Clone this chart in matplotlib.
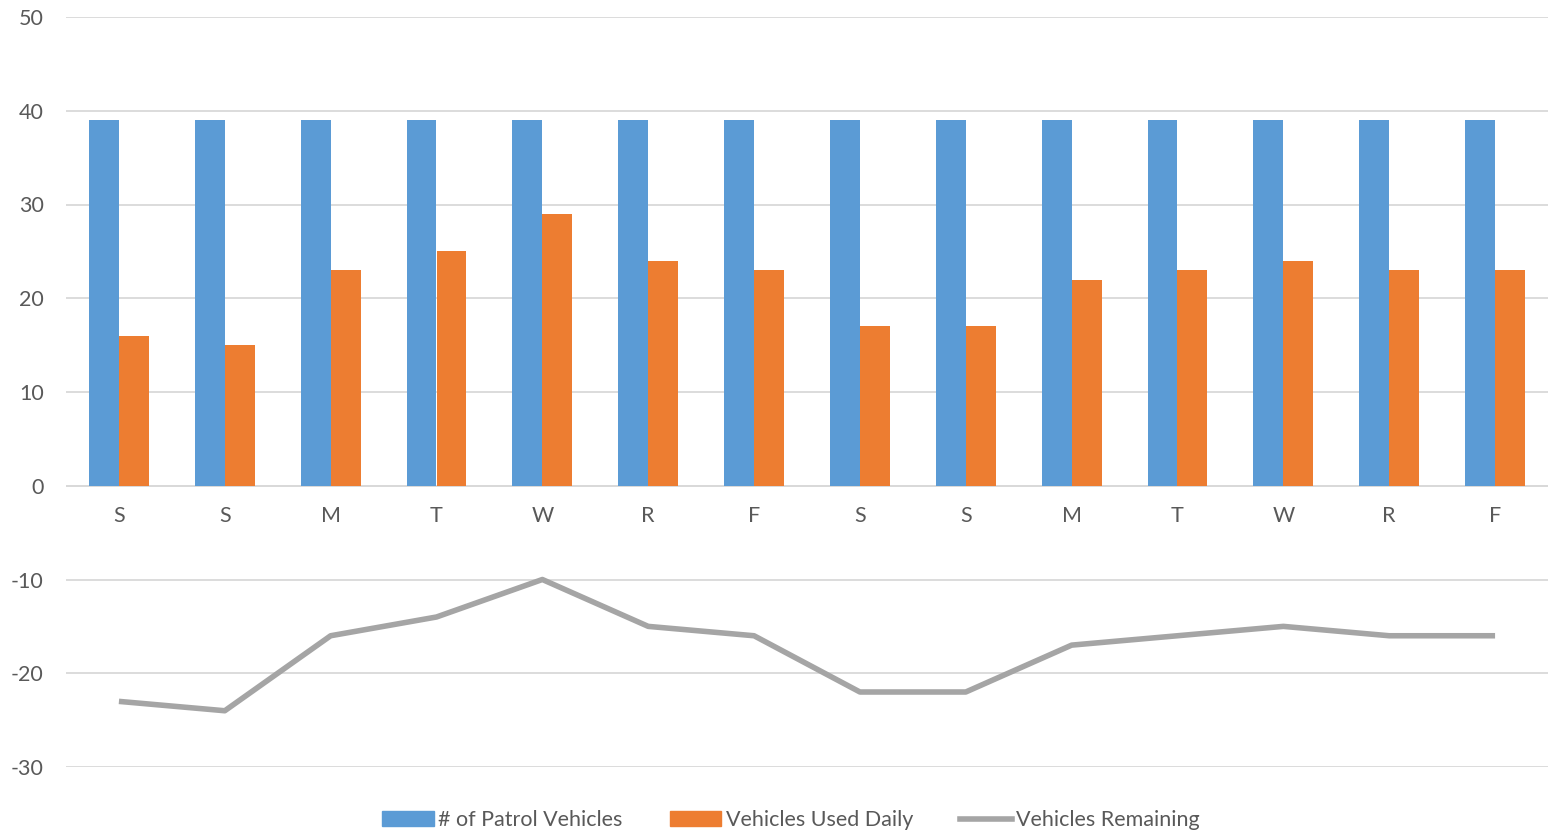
import numpy as np
import matplotlib.pyplot as plt
from matplotlib.lines import Line2D
from matplotlib.patches import Patch

days = ["S", "S", "M", "T", "W", "R", "F", "S", "S", "M", "T", "W", "R", "F"]
patrol = [39, 39, 39, 39, 39, 39, 39, 39, 39, 39, 39, 39, 39, 39]
used = [16, 15, 23, 25, 29, 24, 23, 17, 17, 22, 23, 24, 23, 23]
remaining = [-23, -24, -16, -14, -10, -15, -16, -22, -22, -17, -16, -15, -16, -16]

plt.rcParams['font.family'] = ['Lato', 'DejaVu Sans']
plt.rcParams['axes.unicode_minus'] = False
text_col = "#595959"

fig = plt.figure(figsize=(15.54, 8.32), dpi=100)
ax = fig.add_axes([66 / 1554, 65 / 832, 1482 / 1554, 750 / 832])

x = np.arange(len(days))
w = 0.283
ax.bar(x - w / 2, patrol, w, color="#5b9bd5", zorder=3)
ax.bar(x + w / 2, used, w, color="#ed7d31", zorder=3)
ax.plot(x, remaining, color="#a5a5a5", lw=4, zorder=4, solid_capstyle="butt")

ax.set_xlim(-0.5, len(days) - 0.5)
ax.set_ylim(-30, 50)
ax.set_yticks(range(-30, 51, 10))
ax.grid(axis="y", color="#d9d9d9", lw=1.3, zorder=0)
ax.axhline(0, color="#d9d9d9", lw=1.3, zorder=2)
for s in ax.spines.values():
    s.set_visible(False)
ax.tick_params(axis="both", length=0, labelsize=15.5, labelcolor=text_col)
ax.tick_params(axis="y", pad=16)
ax.set_xticks([])
for i, d in enumerate(days):
    ax.text(i, -3.2, d, ha="center", va="center", fontsize=15.5, color=text_col)

handles = [Patch(color="#5b9bd5"), Patch(color="#ed7d31"),
           Line2D([], [], color="#a5a5a5", lw=4)]
labels = ["# of Patrol Vehicles", "Vehicles Used Daily", "Vehicles Remaining"]
fig.legend(handles, labels, loc="center", bbox_to_anchor=(791 / 1554, 12 / 832),
           ncol=3, frameon=False, fontsize=15.5, labelcolor=text_col,
           handlelength=2.4, handleheight=0.65, handletextpad=0.2, columnspacing=2.2)

fig.savefig("out.png", dpi=100)
